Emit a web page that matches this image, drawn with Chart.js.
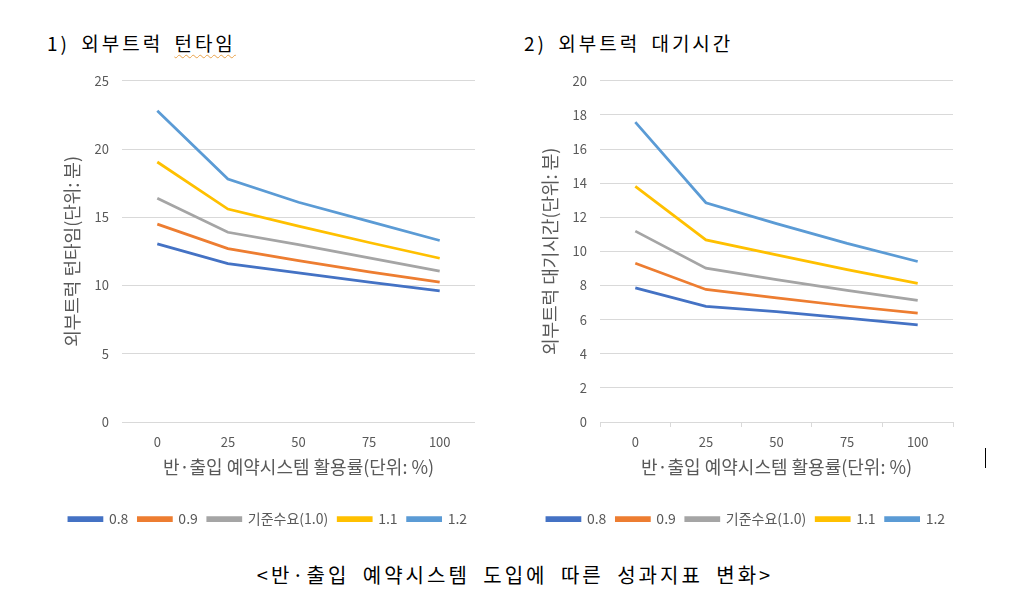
<!DOCTYPE html>
<html>
<head>
<meta charset="utf-8">
<script src="https://cdn.jsdelivr.net/npm/chart.js@4"></script>
<style>
  body { margin: 0; background: #fff; width: 1014px; height: 602px; position: relative; overflow: hidden; }
  .ttl { position: absolute; font-family: "Noto Sans CJK KR", sans-serif; color: #000; font-size: 19px; line-height: 22px; white-space: nowrap; letter-spacing: 3px; word-spacing: 4px; }
  .sq { text-decoration: underline wavy #e8a24a; text-decoration-thickness: 1px; text-underline-offset: 3px; }
  canvas { position: absolute; }
  #cursor { position: absolute; left: 985px; top: 448px; width: 1px; height: 20px; background: #000; }
</style>
</head>
<body>
<div class="ttl" style="left:47px; top:32px;">1) 외부트럭 <span class="sq">턴타임</span></div>
<div class="ttl" style="left:524px; top:32px;">2) 외부트럭 대기시간</div>
<canvas id="turnChart" width="456" height="476" style="left:40px; top:60px;"></canvas>
<canvas id="waitChart" width="456" height="476" style="left:518px; top:60px;"></canvas>
<div id="cursor"></div>
<div class="ttl" style="left:8px; width:1014px; text-align:center; top:564px; font-size:20px; letter-spacing:3px; word-spacing:6px;">&lt;반·출입 예약시스템 도입에 따른 성과지표 변화&gt;</div>

<script>
// 반출입 예약시스템 활용률 (x축)
const categories = ['0', '25', '50', '75', '100'];
const seriesNames = ['0.8', '0.9', '기준수요(1.0)', '1.1', '1.2'];
const seriesColors = ['#4472C4', '#ED7D31', '#A5A5A5', '#FFC000', '#5B9BD5'];

// 1) 외부트럭 턴타임 (분)
const turn08 = [13.05, 11.6, 10.93, 10.25, 9.6];
const turn09 = [14.5, 12.7, 11.83, 11.0, 10.25];
const turn10 = [16.4, 13.9, 13.0, 12.03, 11.05];
const turn11 = [19.05, 15.6, 14.35, 13.15, 12.0];
const turn12 = [22.8, 17.8, 16.1, 14.7, 13.3];

// 2) 외부트럭 대기시간 (분)
const wait08 = [7.86, 6.78, 6.47, 6.09, 5.7];
const wait09 = [9.31, 7.77, 7.28, 6.8, 6.38];
const wait10 = [11.19, 9.02, 8.35, 7.71, 7.13];
const wait11 = [13.81, 10.67, 9.8, 8.93, 8.13];
const wait12 = [17.58, 12.85, 11.63, 10.47, 9.41];

const FONT = '"Noto Sans CJK KR", sans-serif';
const GREY_TXT = '#595959';
const GRID = '#d9d9d9';

function buildDatasets(list) {
    return list.map((vals, i) => ({
        label: seriesNames[i],
        data: vals,
        borderColor: seriesColors[i],
        backgroundColor: seriesColors[i],
        borderWidth: 2.75,
        pointRadius: 0,
        tension: 0
    }));
}

function makeChart(id, datasets, yMax, yStep, yTitle, padTop, axisTicks) {
    const ctx = document.getElementById(id).getContext('2d');
    return new Chart(ctx, {
        type: 'line',
        data: { labels: categories, datasets: datasets },
        options: {
            responsive: false,
            animation: false,
            layout: { padding: { top: padTop, left: 0, right: 0, bottom: 0 } },
            plugins: {
                tooltip: { enabled: false },
                legend: {
                    position: 'bottom',
                    labels: {
                        boxWidth: 33,
                        boxHeight: 3,
                        padding: 10,
                        color: GREY_TXT,
                        font: { family: FONT, size: 14 }
                    }
                }
            },
            scales: {
                x: {
                    offset: true,
                    grid: {
                        display: axisTicks,
                        drawOnChartArea: false,
                        drawTicks: axisTicks,
                        tickLength: 5,
                        color: GRID,
                        offset: true
                    },
                    border: { display: axisTicks, color: GRID },
                    ticks: { color: GREY_TXT, padding: axisTicks ? 7 : 12, font: { family: FONT, size: 13 } },
                    title: {
                        display: true,
                        text: '반·출입 예약시스템 활용률(단위: %)',
                        color: GREY_TXT,
                        font: { family: FONT, size: 18 },
                        padding: { top: 4, bottom: 24 }
                    },
                    afterFit: function (scale) { scale.height = 80; }
                },
                y: {
                    min: 0,
                    max: yMax,
                    ticks: { stepSize: yStep, color: GREY_TXT, padding: 13, font: { family: FONT, size: 13 } },
                    grid: { color: GRID, drawTicks: false },
                    border: { display: false },
                    title: {
                        display: true,
                        text: yTitle,
                        color: GREY_TXT,
                        font: { family: FONT, size: 18 },
                        padding: { top: 21, bottom: 0 }
                    },
                    afterFit: function (scale) { scale.width = 82; }
                },
                // 범례를 가운데로 맞추기 위한 오른쪽 여백용 축
                yRight: {
                    position: 'right',
                    display: true,
                    ticks: { display: false },
                    grid: { display: false },
                    border: { display: false },
                    afterFit: function (scale) { scale.width = 21; }
                }
            }
        }
    });
}

makeChart('turnChart', buildDatasets([turn08, turn09, turn10, turn11, turn12]), 25, 5, '외부트럭 턴타임(단위: 분)', 19, false);
makeChart('waitChart', buildDatasets([wait08, wait09, wait10, wait11, wait12]), 20, 2, '외부트럭 대기시간(단위: 분)', 17, true);
</script>
</body>
</html>
